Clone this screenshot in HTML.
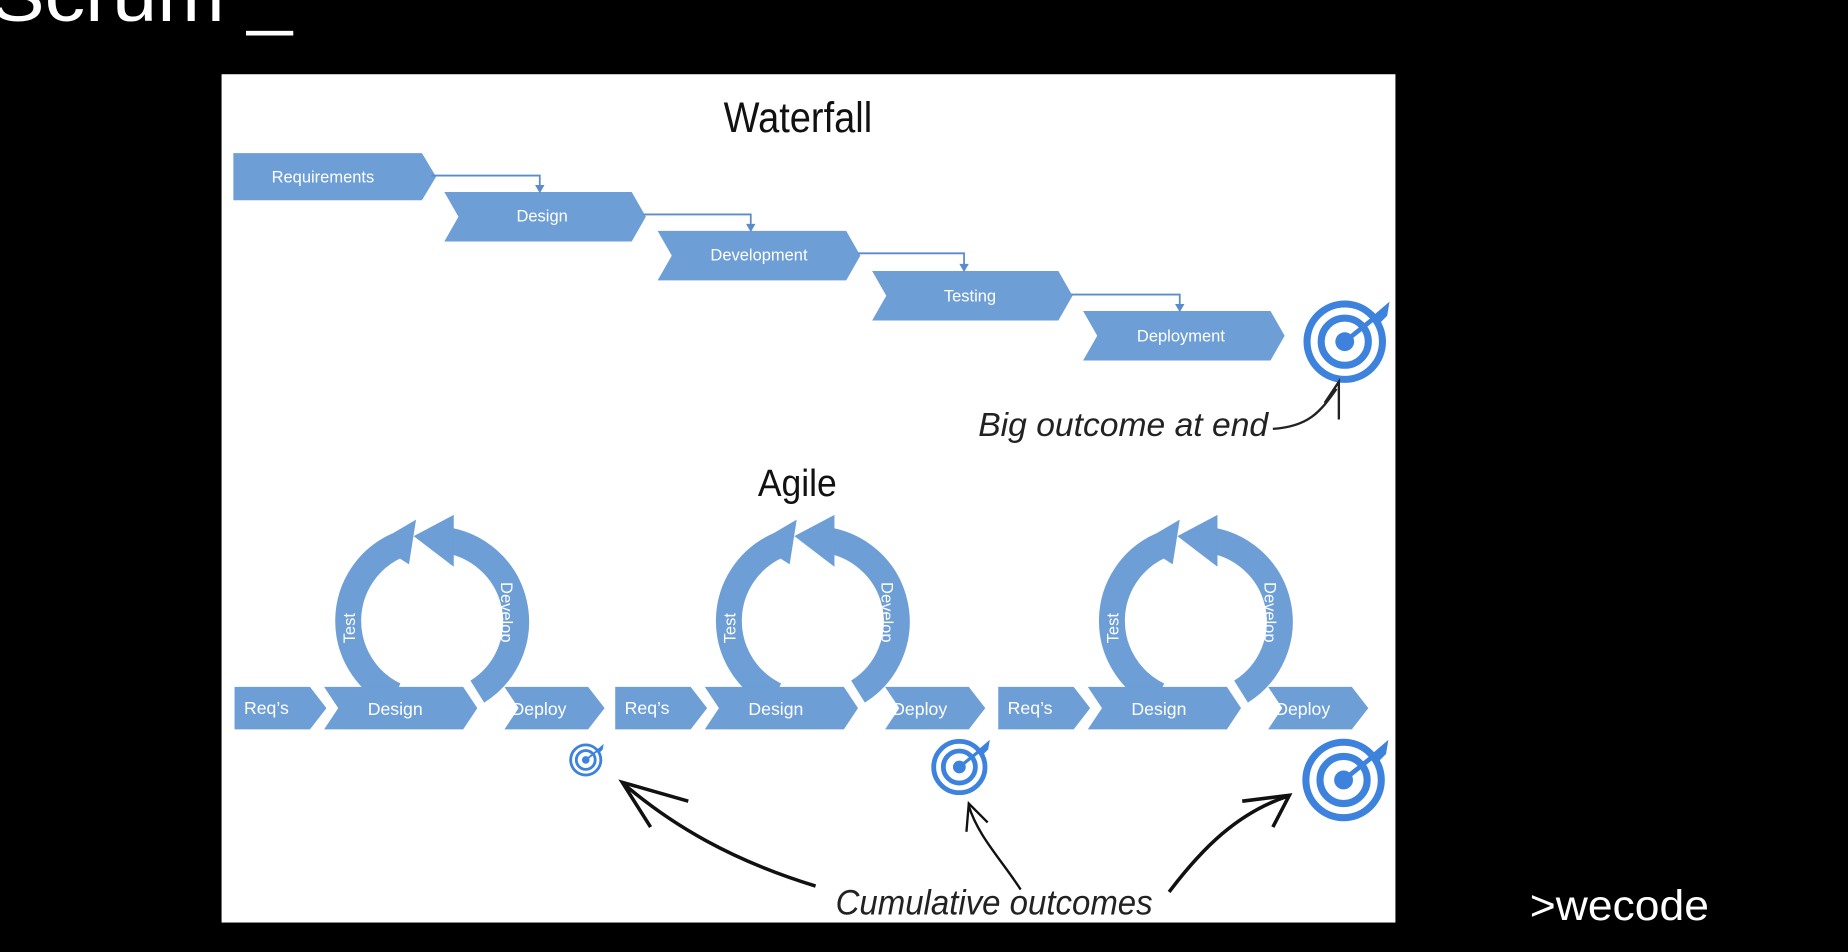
<!DOCTYPE html>
<html><head><meta charset="utf-8"><style>
html,body{margin:0;padding:0;background:#000;width:1848px;height:952px;overflow:hidden}
svg{display:block}
</style></head><body>
<svg width="1848" height="952" viewBox="0 0 1568 808" preserveAspectRatio="none" xmlns="http://www.w3.org/2000/svg">
<defs>
<g id="tgt">
 <circle r="32" fill="none" stroke="#3d82dc" stroke-width="6"/>
 <circle r="20" fill="none" stroke="#3d82dc" stroke-width="6"/>
 <circle r="8" fill="#3d82dc"/>
 <line x1="0" y1="0" x2="30" y2="-24" stroke="#3d82dc" stroke-width="4"/>
 <polygon points="24,-22 38,-34 36,-22 30,-16" fill="#3d82dc"/>
</g>
<g id="loop">
 <path d="M-30,63 A70,70 0 0 1 -28,-64" fill="none" stroke="#6d9ed6" stroke-width="22"/>
 <polygon points="-46,-66 -12,-86 -18,-48" fill="#6d9ed6"/>
 <path d="M40,60 A70,70 0 0 0 10,-69" fill="none" stroke="#6d9ed6" stroke-width="22"/>
 <polygon points="20,-90 -14,-72 20,-46" fill="#6d9ed6"/>
</g>
<g id="row" font-family="Liberation Sans, sans-serif" font-size="15" fill="#fff">
 <g transform="translate(166,-74)"><use href="#loop"/></g>
 <polygon points="0,-18 64,-18 78,0 64,18 0,18" fill="#6d9ed6"/>
 <text x="8" y="5">Req’s</text>
 <polygon points="76,-18 194,-18 206,0 194,18 76,18 88,0" fill="#6d9ed6"/>
 <text x="113" y="6">Design</text>
 <polygon points="229,-18 300,-18 314,0 300,18 229,18 241,0" fill="#6d9ed6"/>
 <text x="235" y="6">Deploy</text>
 <text transform="translate(102,-55) rotate(-90)" font-size="14">Test</text>
 <text transform="translate(226,-107) rotate(90)" font-size="14">Develop</text>
</g>
</defs>
<text x="-8" y="18" fill="#fff" font-family="Liberation Sans, sans-serif" font-size="62" textLength="256" lengthAdjust="spacingAndGlyphs">Scrum _</text>
<rect x="188" y="63" width="996" height="720" fill="#fff"/>
<text x="614" y="112" font-family="Liberation Sans, sans-serif" font-size="36" fill="#111" textLength="126" lengthAdjust="spacingAndGlyphs">Waterfall</text>
<g font-family="Liberation Sans, sans-serif" font-size="14" fill="#fff" text-anchor="middle">
 <polygon points="198,130 358,130 370,150 358,170 198,170" fill="#6d9ed6"/><text x="274" y="155">Requirements</text>
 <polygon points="377,163 536,163 548,184 536,205 377,205 389,184" fill="#6d9ed6"/><text x="460" y="188">Design</text>
 <polygon points="558,196 718,196 730,217 718,238 558,238 570,217" fill="#6d9ed6"/><text x="644" y="221">Development</text>
 <polygon points="740,230 898,230 910,251 898,272 740,272 752,251" fill="#6d9ed6"/><text x="823" y="256">Testing</text>
 <polygon points="919,264 1078,264 1090,285 1078,306 919,306 931,285" fill="#6d9ed6"/><text x="1002" y="290">Deployment</text>
</g>
<g stroke="#5a8ccc" stroke-width="1.5" fill="none">
 <polyline points="366,149 458,149 458,158"/><polyline points="546,182 637,182 637,191"/>
 <polyline points="728,215 818,215 818,225"/><polyline points="909,250 1001,250 1001,259"/>
</g>
<g fill="#5a8ccc"><polygon points="454,157 462,157 458,164"/><polygon points="633,190 641,190 637,197"/><polygon points="814,224 822,224 818,231"/><polygon points="997,258 1005,258 1001,265"/></g>
<g transform="translate(1141,290)"><use href="#tgt"/></g>
<text x="830" y="370" font-family="Liberation Sans, sans-serif" font-style="italic" font-size="28" fill="#222" textLength="246" lengthAdjust="spacingAndGlyphs">Big outcome at end</text>
<path d="M1080,364 C1110,362 1120,350 1134,330" fill="none" stroke="#222" stroke-width="2"/>
<path d="M1124,342 L1136,324 L1136,356" fill="none" stroke="#222" stroke-width="2"/>
<text x="643" y="421" font-family="Liberation Sans, sans-serif" font-size="32" fill="#111" textLength="67" lengthAdjust="spacingAndGlyphs">Agile</text>
<g transform="translate(199,601)"><use href="#row"/></g>
<g transform="translate(522,601)"><use href="#row"/></g>
<g transform="translate(847,601)"><use href="#row"/></g>
<g transform="translate(497,645) scale(0.4)"><use href="#tgt"/></g>
<g transform="translate(814,651) scale(0.68)"><use href="#tgt"/></g>
<g transform="translate(1140,662)"><use href="#tgt"/></g>
<text x="709" y="776" font-family="Liberation Sans, sans-serif" font-style="italic" font-size="30" fill="#222" textLength="269" lengthAdjust="spacingAndGlyphs">Cumulative outcomes</text>
<g fill="none" stroke="#111" stroke-width="3">
 <path d="M692,752 C620,730 570,700 530,666"/><path d="M552,702 L528,664 L584,680"/>
 <path d="M866,755 C850,730 830,710 822,684" stroke-width="2"/><path d="M820,706 L822,682 L838,698" stroke-width="2"/>
 <path d="M992,757 C1020,720 1050,690 1092,676"/><path d="M1054,680 L1094,675 L1080,702"/>
</g>
<text x="1298" y="781" fill="#fff" font-family="Liberation Sans, sans-serif" font-size="36" textLength="152" lengthAdjust="spacingAndGlyphs">&gt;wecode</text>
</svg>
</body></html>
